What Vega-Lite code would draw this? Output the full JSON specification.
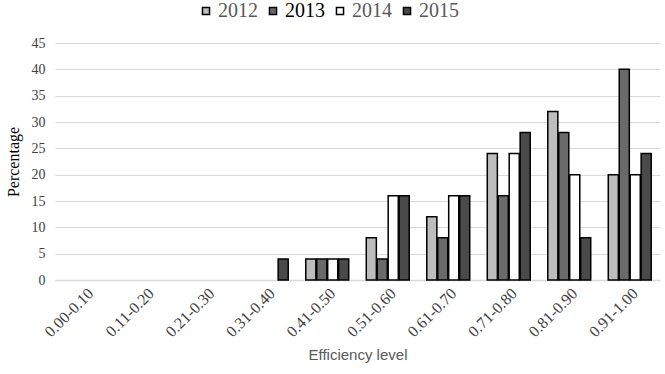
{
  "$schema": "https://vega.github.io/schema/vega-lite/v6.json",
  "autosize": {"type": "none"},
  "width": 605,
  "height": 237,
  "padding": {"left": 55, "top": 43, "right": 5, "bottom": 94},
  "background": "white",
  "data": {"values": [
    {"level": "0.00-0.10", "year": "2012", "pct": 0},
    {"level": "0.00-0.10", "year": "2013", "pct": 0},
    {"level": "0.00-0.10", "year": "2014", "pct": 0},
    {"level": "0.00-0.10", "year": "2015", "pct": 0},
    {"level": "0.11-0.20", "year": "2012", "pct": 0},
    {"level": "0.11-0.20", "year": "2013", "pct": 0},
    {"level": "0.11-0.20", "year": "2014", "pct": 0},
    {"level": "0.11-0.20", "year": "2015", "pct": 0},
    {"level": "0.21-0.30", "year": "2012", "pct": 0},
    {"level": "0.21-0.30", "year": "2013", "pct": 0},
    {"level": "0.21-0.30", "year": "2014", "pct": 0},
    {"level": "0.21-0.30", "year": "2015", "pct": 0},
    {"level": "0.31-0.40", "year": "2012", "pct": 0},
    {"level": "0.31-0.40", "year": "2013", "pct": 0},
    {"level": "0.31-0.40", "year": "2014", "pct": 0},
    {"level": "0.31-0.40", "year": "2015", "pct": 4},
    {"level": "0.41-0.50", "year": "2012", "pct": 4},
    {"level": "0.41-0.50", "year": "2013", "pct": 4},
    {"level": "0.41-0.50", "year": "2014", "pct": 4},
    {"level": "0.41-0.50", "year": "2015", "pct": 4},
    {"level": "0.51-0.60", "year": "2012", "pct": 8},
    {"level": "0.51-0.60", "year": "2013", "pct": 4},
    {"level": "0.51-0.60", "year": "2014", "pct": 16},
    {"level": "0.51-0.60", "year": "2015", "pct": 16},
    {"level": "0.61-0.70", "year": "2012", "pct": 12},
    {"level": "0.61-0.70", "year": "2013", "pct": 8},
    {"level": "0.61-0.70", "year": "2014", "pct": 16},
    {"level": "0.61-0.70", "year": "2015", "pct": 16},
    {"level": "0.71-0.80", "year": "2012", "pct": 24},
    {"level": "0.71-0.80", "year": "2013", "pct": 16},
    {"level": "0.71-0.80", "year": "2014", "pct": 24},
    {"level": "0.71-0.80", "year": "2015", "pct": 28},
    {"level": "0.81-0.90", "year": "2012", "pct": 32},
    {"level": "0.81-0.90", "year": "2013", "pct": 28},
    {"level": "0.81-0.90", "year": "2014", "pct": 20},
    {"level": "0.81-0.90", "year": "2015", "pct": 8},
    {"level": "0.91-1.00", "year": "2012", "pct": 20},
    {"level": "0.91-1.00", "year": "2013", "pct": 40},
    {"level": "0.91-1.00", "year": "2014", "pct": 20},
    {"level": "0.91-1.00", "year": "2015", "pct": 24}
  ]},
  "transform": [{"filter": "datum.pct > 0"}],
  "mark": {"type": "bar", "stroke": "black", "strokeWidth": 1.5},
  "encoding": {
    "x": {
      "field": "level", "type": "nominal", "sort": null,
      "scale": {
        "domain": ["0.00-0.10","0.11-0.20","0.21-0.30","0.31-0.40","0.41-0.50","0.51-0.60","0.61-0.70","0.71-0.80","0.81-0.90","0.91-1.00"],
        "paddingInner": 0.29, "paddingOuter": 0.145
      },
      "axis": {
        "title": "Efficiency level",
        "titleFont": "Liberation Sans", "titleFontSize": 15, "titleFontWeight": "normal",
        "titleColor": "#595959", "titlePadding": 8,
        "labelFont": "Liberation Serif", "labelFontSize": 16, "labelColor": "#404040",
        "labelAngle": -45, "labelPadding": 5,
        "ticks": false, "domainColor": "#d9d9d9", "domainWidth": 1.5
      }
    },
    "xOffset": {"field": "year", "type": "nominal", "scale": {"domain": ["2012","2013","2014","2015"], "paddingInner": 0.08}},
    "y": {
      "field": "pct", "type": "quantitative",
      "scale": {"domain": [0, 45]},
      "axis": {
        "title": "Percentage", "values": [0,5,10,15,20,25,30,35,40,45],
        "titleFont": "Liberation Serif", "titleFontSize": 16, "titleFontWeight": "normal",
        "titleColor": "#000000", "titlePadding": 10,
        "labelFont": "Liberation Serif", "labelFontSize": 14, "labelColor": "#404040",
        "labelPadding": 10,
        "ticks": false, "domain": false, "gridColor": "#d9d9d9", "gridWidth": 1.2
      }
    },
    "fill": {
      "field": "year", "type": "nominal",
      "scale": {"domain": ["2012","2013","2014","2015"], "range": ["#bdbdbd", "#6a6a6a", "#ffffff", "#4a4a4a"]},
      "legend": {
        "title": null, "orient": "none", "direction": "horizontal",
        "legendX": 141, "legendY": -42,
        "symbolType": "square", "symbolSize": 50, "symbolStrokeColor": "black", "symbolStrokeWidth": 1.5,
        "labelFont": "Liberation Serif", "labelFontSize": 20, "labelColor": "#595959",
        "columnPadding": 5, "labelOffset": 2,
        "encode": {"labels": {"update": {"fill": {"signal": "datum.label === '2013' ? '#000000' : '#595959'"}}}}
      }
    }
  },
  "config": {"view": {"stroke": null}}
}
